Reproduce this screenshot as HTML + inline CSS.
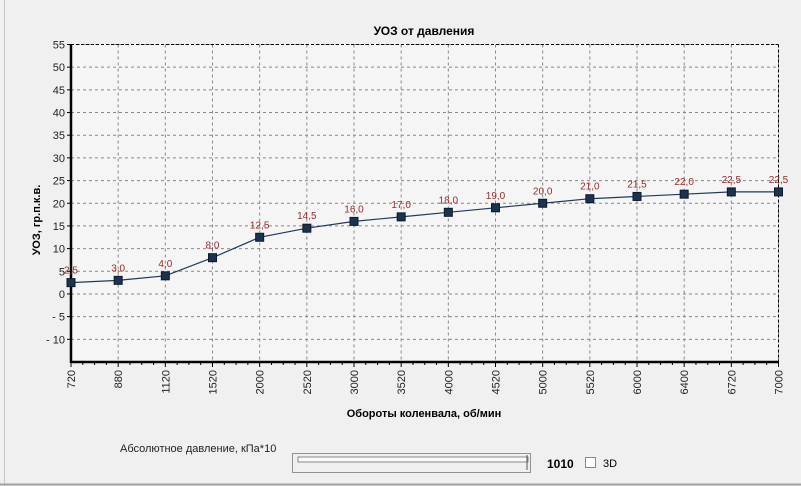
<!DOCTYPE html>
<html><head><meta charset="utf-8"><style>
body{margin:0;background:#f0f0f0;width:801px;height:486px;overflow:hidden;font-family:"Liberation Sans",sans-serif}
</style></head><body>
<svg width="801" height="486" xmlns="http://www.w3.org/2000/svg" style="position:absolute;left:0;top:0">
<line x1="4.5" y1="0" x2="4.5" y2="486" stroke="#c8c8c8"/>
<line x1="0" y1="484.5" x2="801" y2="484.5" stroke="#a0a0a0" stroke-width="2"/>
<text x="424" y="35" font-size="12" font-weight="bold" text-anchor="middle">УОЗ от давления</text>
<text transform="translate(40,220) rotate(-90)" font-size="11" font-weight="bold" text-anchor="middle">УОЗ, гр.п.к.в.</text>
<text x="424" y="417" font-size="11" font-weight="bold" text-anchor="middle">Обороты коленвала, об/мин</text>
<g id="plot"></g>
<text x="120" y="452" font-size="11" fill="#222">Абсолютное давление, кПа*10</text>
<g>
<rect x="292.5" y="453.5" width="238" height="19" fill="none" stroke="#333" stroke-dasharray="1,1"/>
<rect x="298" y="457" width="230" height="5" fill="#fafafa" stroke="#888"/>
<line x1="527" y1="455" x2="527" y2="470" stroke="#555"/>
</g>
<text x="547" y="468" font-size="12" font-weight="bold">1010</text>
<rect x="585.5" y="457.5" width="10" height="10" fill="#fff" stroke="#888"/>
<text x="603" y="467" font-size="11">3D</text>
</svg>
<script>
const categories=["720","880","1120","1520","2000","2520","3000","3520","4000","4520","5000","5520","6000","6400","6720","7000"];
const values=[2.5,3,4,8,12.5,14.5,16,17,18,19,20,21,21.5,22,22.5,22.5];
const valueLabels=["2,5","3,0","4,0","8,0","12,5","14,5","16,0","17,0","18,0","19,0","20,0","21,0","21,5","22,0","22,5","22,5"];
const yTicks=[55,50,45,40,35,30,25,20,15,10,5,0,-5,-10];
const L=71,R=778.5,T=44.5,B=362,yMin=-15,yMax=55;
const ns="http://www.w3.org/2000/svg";
const g=document.getElementById('plot');
const xs=i=>L+i*(R-L)/(categories.length-1);
const ys=v=>B-(v-yMin)/(yMax-yMin)*(B-T);
function mk(t,a,p){const e=document.createElementNS(ns,t);for(const k in a)e.setAttribute(k,a[k]);(p||g).appendChild(e);return e;}
let bg=mk('rect',{x:L,y:T,width:R-L,height:B-T,fill:'#f5f5f5'});


yTicks.forEach(v=>{const y=ys(v);
 let l=mk('line',{x1:L,x2:R,y1:y,y2:y,stroke:'#888','stroke-dasharray':'3,3'});
 
 
 mk('line',{x1:L-4,x2:L,y1:y,y2:y,stroke:'#000'});
 let t=mk('text',{x:L-6,y:y+4,'font-size':11,'text-anchor':'end',fill:'#222'});t.textContent=v<0?'- '+(-v):v;
 
 
});
categories.forEach((c,i)=>{const x=xs(i);
 let l=mk('line',{x1:x,x2:x,y1:T,y2:B,stroke:'#888','stroke-dasharray':'3,3'});
 
 
 mk('line',{x1:x,x2:x,y1:B,y2:B+5,stroke:'#000'});
 if(i<categories.length-1){for(let k=1;k<4;k++){const mx=x+k*(R-L)/(categories.length-1)/4;mk('line',{x1:mx,x2:mx,y1:B,y2:B+3,stroke:'#000'});}}
 let t=mk('text',{transform:`translate(${x+4},${B+8}) rotate(-90)`,'font-size':11,'text-anchor':'end',fill:'#222'});t.textContent=c;
 
 
});
mk('line',{x1:L,x2:R,y1:T,y2:T,stroke:'#000','stroke-dasharray':'3,2'});
mk('line',{x1:R,x2:R,y1:T,y2:B,stroke:'#000','stroke-dasharray':'3,2'});
let ax=mk('line',{x1:L,x2:L,y1:T,y2:B+1,stroke:'#000','stroke-width':2.5});


let bx=mk('line',{x1:L,x2:R,y1:B,y2:B,stroke:'#000','stroke-width':2.5});


let pl=mk('polyline',{points:values.map((v,i)=>xs(i)+','+ys(v)).join(' '),fill:'none',stroke:'#1f3a5a','stroke-width':1.2});


values.forEach((v,i)=>{const x=xs(i),y=ys(v);
 let r=mk('rect',{x:x-4,y:y-4,width:8,height:8,fill:'#1c3350',stroke:'#0a1a2a'});
 
 
 let t=mk('text',{x:x,y:y-9,'font-size':10,'text-anchor':'middle',fill:'#9a2a2a'});t.textContent=valueLabels[i];
 
 
});
</script>
</body></html>
